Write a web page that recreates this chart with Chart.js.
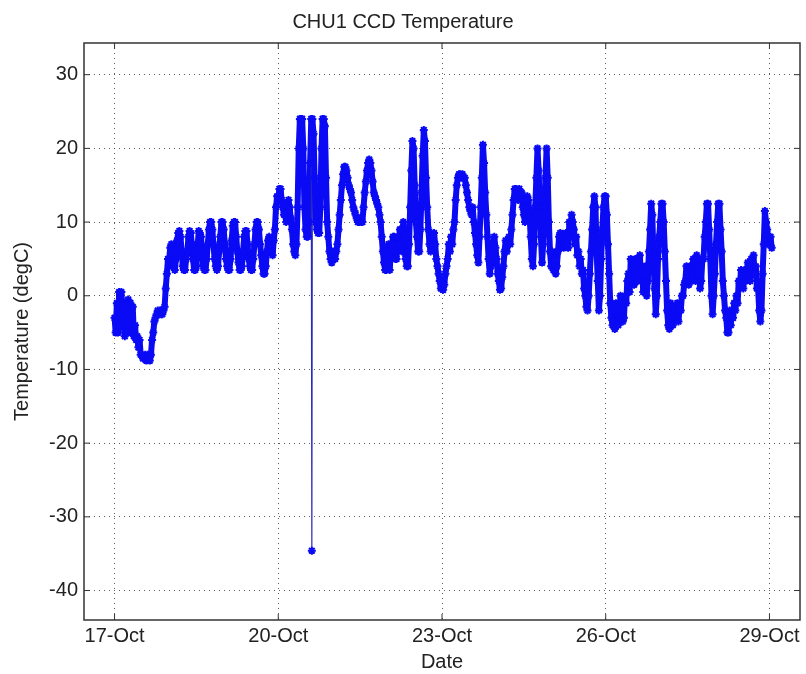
<!DOCTYPE html>
<html>
<head>
<meta charset="utf-8">
<script src="https://cdn.jsdelivr.net/npm/chart.js@4"></script>
<style>
  html, body { margin: 0; padding: 0; background: #ffffff; }
  #wrap { width: 806px; height: 674px; }
</style>
</head>
<body>
<div id="wrap"><canvas id="tempChart" width="806" height="674"></canvas></div>
<script>
// half-hourly CCD temperature readings (degC), one array per day in October
var oct17 = [-3, -5, -1, -5, 0.5, -4, 0.5, -2, -4, -5.5, -1, -5, -0.5, -4, -1, -5, -1.5, -5.5, -4, -6, -5.5, -7, -6, -8,
             -8, -8.5, -8.5, -8, -8.8, -8, -8.5, -8.8, -8, -6, -5, -3.5, -3, -2.5, -2, -2.5, -2, -2.5, -2.5, -2, -1.5, 1, 3, 5];
var oct18 = [5, 6.5, 7, 4, 4, 3.5, 5, 7.5, 8.5, 8.8, 8, 6, 4, 3.5, 3.5, 5, 6, 8, 8.8, 8.5, 7, 5, 3.5, 3.5,
             4, 6.5, 8.8, 8.5, 8, 6, 4, 3.5, 3.5, 5, 7, 9, 10, 10, 9, 7, 5, 4, 3.5, 4, 6, 8, 10, 10];
var oct19 = [9, 7, 5, 4, 3.5, 3.5, 5, 7.5, 9.5, 10, 10, 8, 6, 4.5, 3.5, 3.5, 4, 6, 8, 8.8, 8.8, 7, 5, 4,
             3.5, 3.5, 5, 7, 9, 10, 10, 9, 7, 5.5, 4, 3, 3, 4, 6, 7.5, 8, 7, 6, 5.5, 7.5, 9, 12, 13.5];
var oct20 = [13, 14.5, 14.5, 13, 12, 11, 11, 10, 12.5, 13, 12, 10.5, 9, 7, 6, 5.5, 7, 12, 20, 24, 24, 24, 20, 12,
             9, 8, 8, 10, 18, 24, 24, 22, 16, 10, 9, 8.5, 8.5, 12, 20, 24, 24, 23, 16, 10, 8, 6, 5, 4.5];
var oct21 = [6, 5, 5, 6, 7, 9, 11, 13, 15, 16.5, 17.5, 17.5, 17, 16, 15, 14.5, 14, 13, 12, 11.5, 11, 10.5, 10, 10,
             10.5, 10, 10, 12, 14, 15.5, 17, 18, 18.5, 18, 17, 15.5, 14, 13.5, 13, 12.5, 12, 11, 10, 8, 6, 4.5, 3.5, 3.5];
var oct22 = [4, 7, 3.5, 6, 7, 8, 8, 5, 5, 8, 7, 9, 9, 6, 10, 7, 5, 4, 4, 7, 12, 17, 21, 20,
             15, 10, 8, 6, 6, 9, 14, 19, 22.5, 21, 16, 12, 9, 7, 6, 7, 8, 8.5, 7, 5, 4, 3, 2, 1];
var oct23 = [1, 0.8, 1.5, 3, 4, 5, 7, 6, 8, 7, 9, 10, 13, 15, 16, 16.5, 16.5, 16, 16.5, 16, 16, 15, 14, 13,
             12, 11.5, 11, 12, 10, 8.5, 7, 5.5, 4.5, 8, 12, 16, 20.5, 18, 14, 11, 8, 5, 3, 4, 5, 7, 8, 6.5];
var oct24 = [5, 3, 2, 0.8, 1, 2.5, 4, 6, 7.5, 6, 7, 8, 7, 9, 11, 13, 14.5, 14.5, 14, 13, 14.5, 14, 14, 12,
             11, 10, 12, 13.5, 13, 11, 8, 5, 4, 7, 12, 16, 20, 17, 12, 8, 4.5, 7, 12, 16, 20, 16, 10, 6];
var oct25 = [4, 6, 3.5, 5, 3, 4, 6, 8, 8.5, 7, 8, 6.5, 7, 8.5, 7.5, 6.5, 10, 8, 11, 10, 9, 7, 8, 5.5,
             6, 4, 5, 3, 3.5, 1, 0, -1.5, -2, 0, 3, 6, 9, 12, 13.5, 12, 6, 2, -2, 0, 5, 9, 12, 13.5];
var oct26 = [13.5, 11, 7, 3, -1, -3, -4, -2, -4.5, -1, -2, -4, -3, 0, -2, -3.5, -3, 0, -1, 2, 3, 0.5, 5, 2,
             4.5, 1.5, 5, 2, 2, 5, 5.5, 3, 4, 0.5, 2, 4, 0, 2, 6, 9, 12.5, 11, 5, 1, -2.5, 0, 5, 8];
var oct27 = [10, 12.5, 12.5, 10, 6, 2, -2, -4, -4.5, -1, -3, -4, -1.5, -3, -3, -1, -3.5, -1.5, -2, 0, 0, 1.5, 2, 4,
             3, 1.5, 4, 2, 3, 5, 4.5, 2, 5.5, 3, 4, 1, 2, 5, 5, 8, 10, 12.5, 12.5, 9, 5, 0, -2.5, 0];
var oct28 = [3, 7, 10, 12.5, 12.5, 9, 6, 2, 0, -2, -3, -5, -5, -2, -4, -2, -3, -1, -2, 0, -1, 2, 1.5, 3.5,
             3, 1, 3.5, 2, 3, 4.5, 4, 2, 5, 3, 5.5, 3, 4, 1, 1, -2, -3.5, -2, 3, 7, 11.5, 10, 9, 7];
var oct29 = [7, 8, 6.5];

// single bad reading on 20-Oct
var spikeTime = 20.615;
var spikeTemp = -34.6;

var days = [17, 18, 19, 20, 21, 22, 23, 24, 25, 26, 27, 28, 29];
var dayReadings = [oct17, oct18, oct19, oct20, oct21, oct22, oct23, oct24, oct25, oct26, oct27, oct28, oct29];
var readingsPerDay = 48;

var xTicks = [17, 20, 23, 26, 29];
var yTicks = [-40, -30, -20, -10, 0, 10, 20, 30];

var points = [];
for (var d = 0; d < days.length; d++) {
    for (var i = 0; i < dayReadings[d].length; i++) {
        points.push({x: days[d] + i / readingsPerDay, y: dayReadings[d][i]});
    }
}
points.push({x: spikeTime, y: spikeTemp});
points.sort(function (a, b) { return a.x - b.x; });

// axes box + inward tick marks, matlab style
var boxPlugin = {
    id: 'box',
    afterDraw: function (chart) {
        var ctx = chart.ctx;
        var a = chart.chartArea;
        var xs = chart.scales.x, ys = chart.scales.y;
        ctx.save();
        ctx.strokeStyle = '#333333';
        ctx.lineWidth = 1.5;
        ctx.strokeRect(a.left, a.top, a.right - a.left, a.bottom - a.top);
        ctx.lineWidth = 1;
        ctx.beginPath();
        xTicks.forEach(function (v) {
            var px = xs.getPixelForValue(v);
            ctx.moveTo(px, a.bottom); ctx.lineTo(px, a.bottom - 6);
            ctx.moveTo(px, a.top); ctx.lineTo(px, a.top + 6);
        });
        yTicks.forEach(function (v) {
            var py = ys.getPixelForValue(v);
            ctx.moveTo(a.left, py); ctx.lineTo(a.left + 6, py);
            ctx.moveTo(a.right, py); ctx.lineTo(a.right - 6, py);
        });
        ctx.stroke();
        ctx.restore();
    }
};

var font = 'Liberation Sans, Arial, sans-serif';
var gridStyle = {
    color: 'rgba(40,40,40,0.75)',
    lineWidth: 1,
    drawTicks: false
};

// the drop to the bad reading is drawn as a thin line
function isSpike(c) {
    return c.p0.parsed.y < -20 || c.p1.parsed.y < -20;
}

var ctx = document.getElementById('tempChart').getContext('2d');
var chart = new Chart(ctx, {
    type: 'line',
    data: {
        datasets: [{
            label: 'CCD Temperature',
            data: points,
            borderColor: '#0a0af5',
            backgroundColor: '#0a0af5',
            borderWidth: 6,
            borderJoinStyle: 'round',
            borderCapStyle: 'round',
            pointStyle: 'star',
            pointRadius: 4,
            pointBorderWidth: 2,
            pointBorderColor: '#0a0af5',
            tension: 0,
            segment: {
                borderWidth: function (c) { return isSpike(c) ? 1.2 : undefined; },
                borderColor: function (c) { return isSpike(c) ? '#2a2ab8' : undefined; }
            }
        }]
    },
    options: {
        responsive: false,
        animation: false,
        layout: {padding: {left: 0, right: 0, top: 0, bottom: 0}},
        plugins: {
            legend: {display: false},
            tooltip: {enabled: false},
            title: {
                display: true,
                text: 'CHU1 CCD Temperature',
                color: '#222222',
                font: {family: font, size: 20, weight: 'normal'},
                padding: {top: 10, bottom: 9}
            }
        },
        scales: {
            x: {
                type: 'linear',
                min: 16.44,
                max: 29.56,
                afterBuildTicks: function (scale) {
                    scale.ticks = xTicks.map(function (v) { return {value: v}; });
                },
                afterFit: function (scale) { scale.height = 54; },
                grid: Object.assign({borderDash: [1, 4]}, gridStyle),
                border: {display: false, dash: [1, 4]},
                ticks: {
                    color: '#222222',
                    font: {family: font, size: 20},
                    padding: 4,
                    maxRotation: 0,
                    callback: function (v) { return v + '-Oct'; }
                },
                title: {
                    display: true,
                    text: 'Date',
                    color: '#222222',
                    font: {family: font, size: 20},
                    padding: {top: 0, bottom: 0}
                }
            },
            y: {
                min: -44,
                max: 34.3,
                afterBuildTicks: function (scale) {
                    scale.ticks = yTicks.map(function (v) { return {value: v}; });
                },
                afterFit: function (scale) { scale.width = 84; },
                grid: gridStyle,
                border: {display: false, dash: [1, 4]},
                ticks: {
                    color: '#222222',
                    font: {family: font, size: 20},
                    padding: 6
                },
                title: {
                    display: true,
                    text: 'Temperature (degC)',
                    color: '#222222',
                    font: {family: font, size: 20},
                    padding: {top: 10, bottom: 0}
                }
            }
        }
    },
    plugins: [boxPlugin]
});
</script>
</body>
</html>
